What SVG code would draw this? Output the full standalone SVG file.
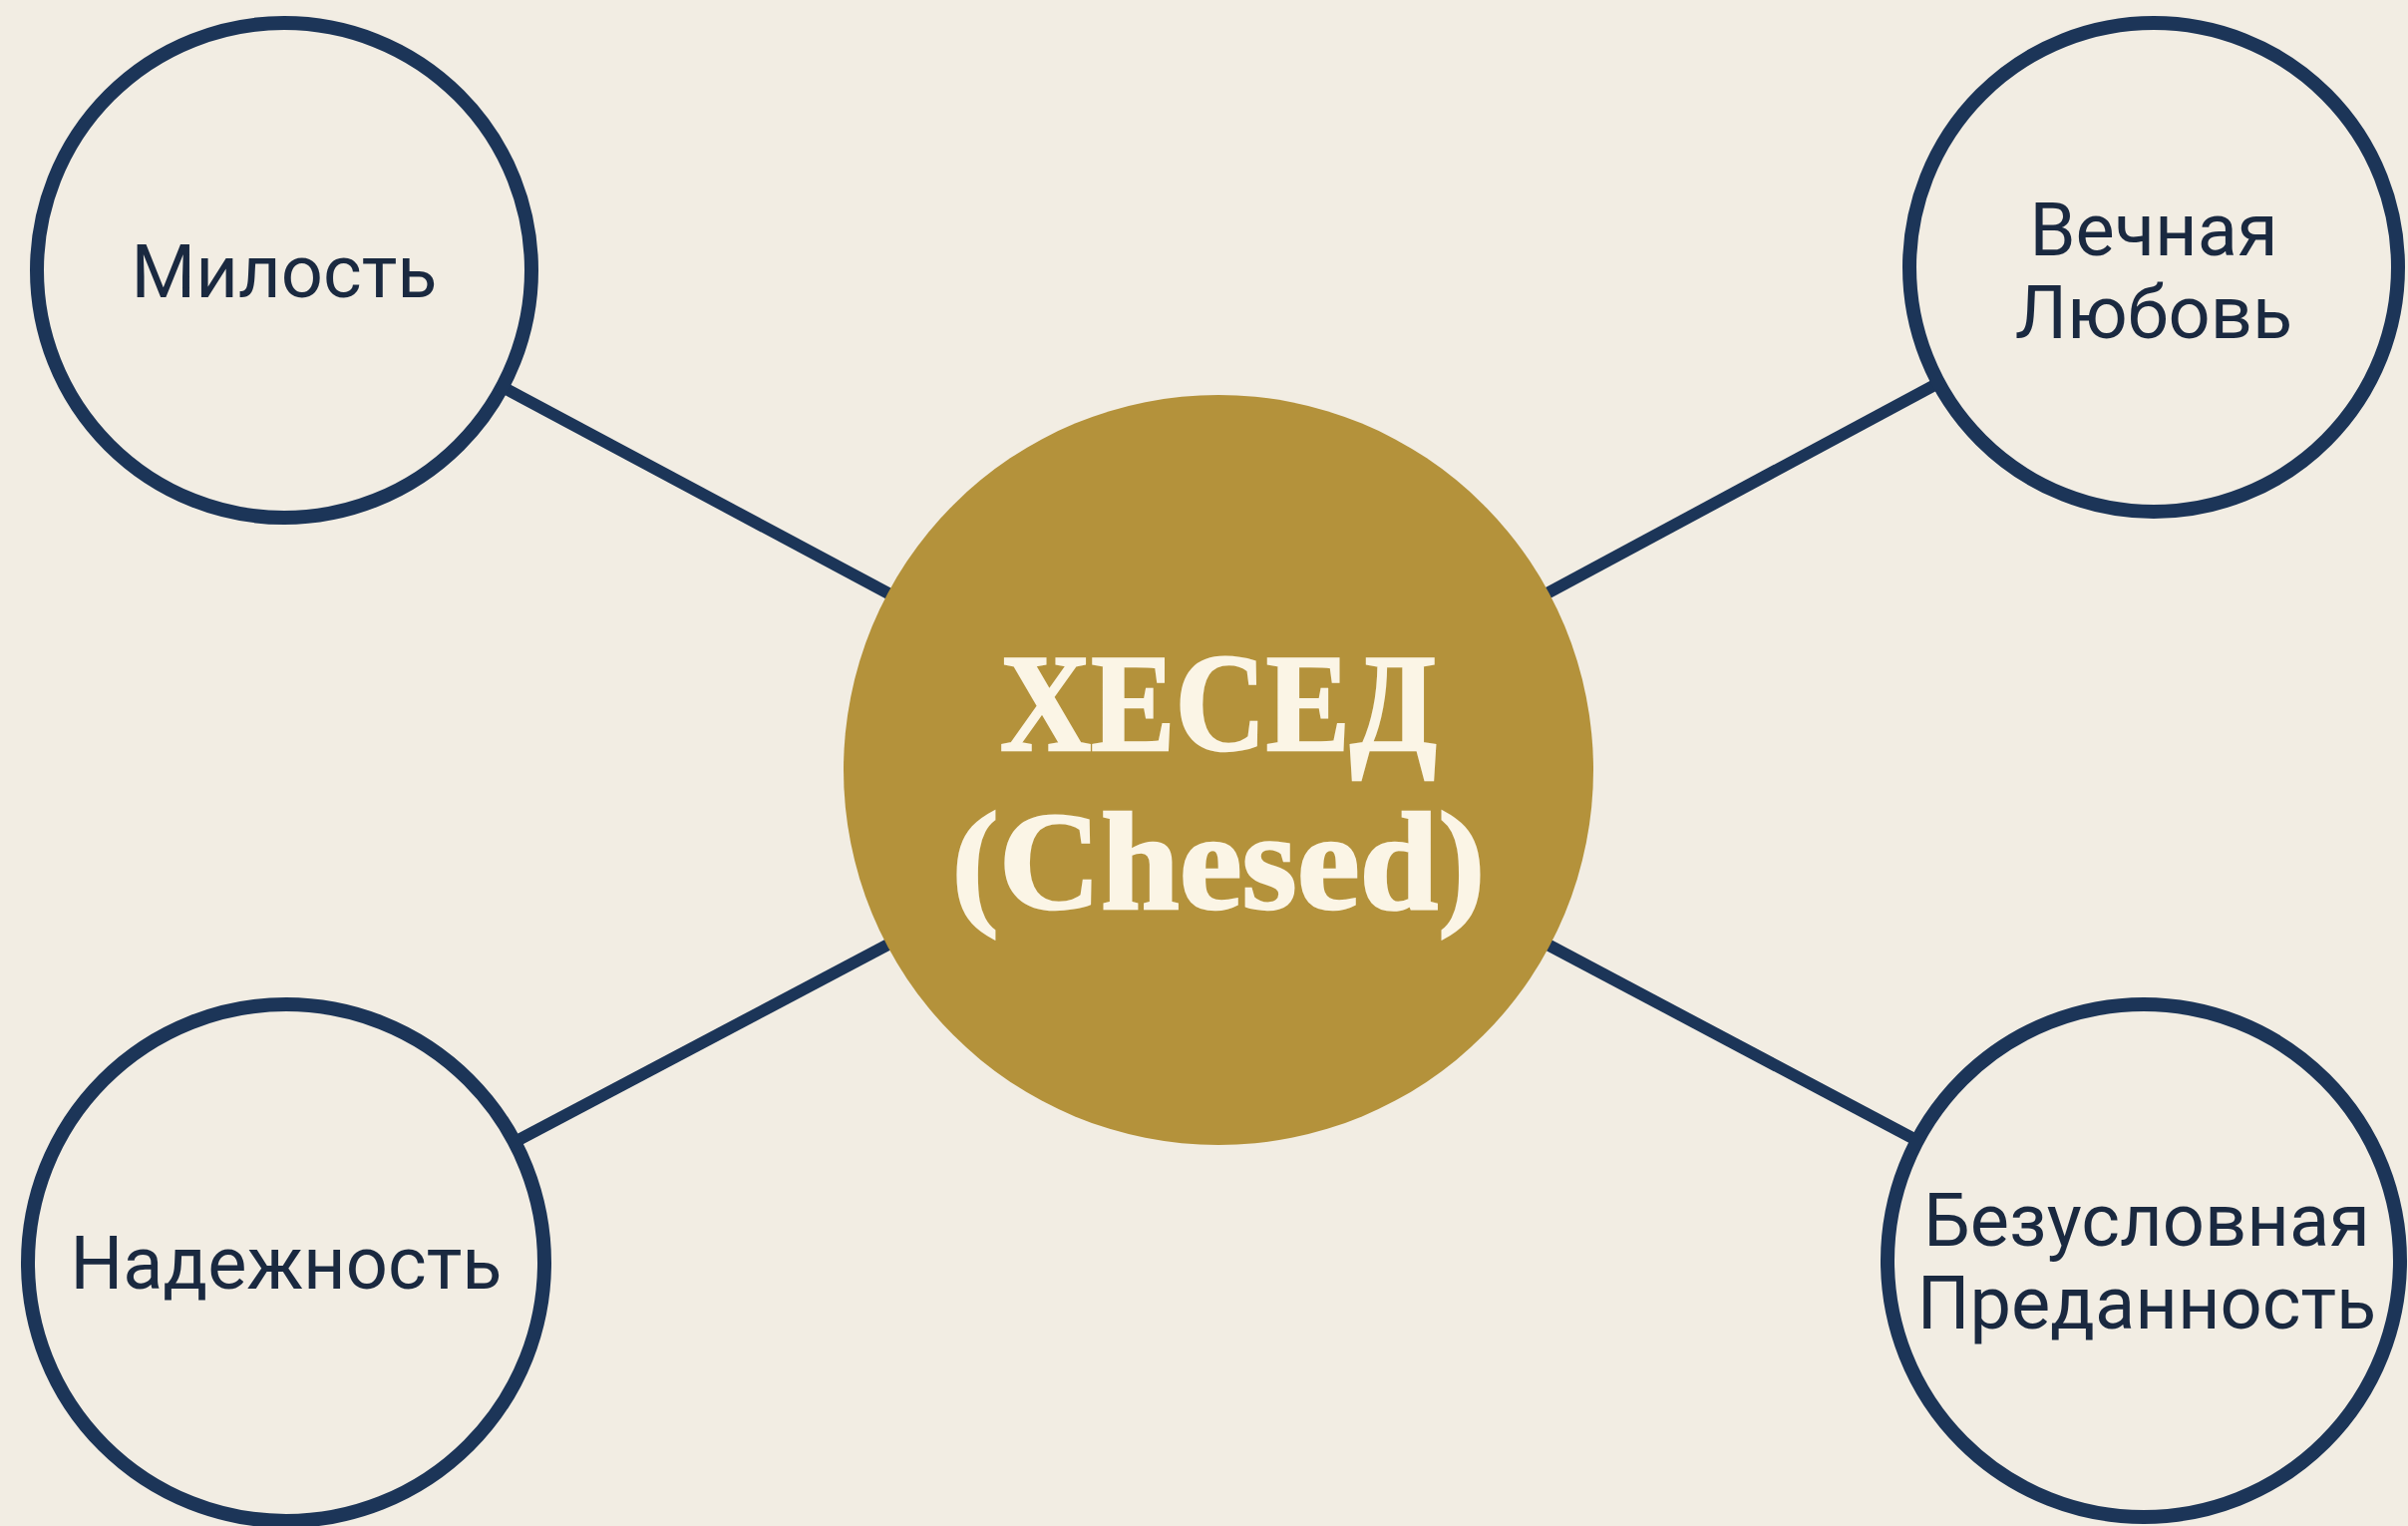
<svg xmlns="http://www.w3.org/2000/svg" width="2415" height="1530" viewBox="0 0 2415 1530">
<style>
.bg{fill:#F2EDE3}
.conn{stroke:#1C3558;stroke-width:12;fill:none}
.node{fill:#F2EDE3;stroke:#1C3558;stroke-width:14}
.lbl{font-family:Roboto,"Liberation Sans",sans-serif;font-size:74px;fill:#1A2940;text-anchor:middle}
.core{fill:#B4923B}
.title{font-family:"Liberation Serif","DejaVu Serif",serif;font-weight:bold;font-size:140px;fill:#FBF5E6;stroke:#FBF5E6;stroke-width:2.5;text-anchor:middle}
</style>
<rect class="bg" x="0" y="0" width="2415" height="1530"/>
<g id="connectors">
<line class="conn" x1="285" y1="271" x2="1222" y2="772"/>
<line class="conn" x1="2160" y1="268" x2="1222" y2="772"/>
<line class="conn" x1="287" y1="1266" x2="1222" y2="772"/>
<line class="conn" x1="2150" y1="1264" x2="1222" y2="772"/>
</g>
<g id="center">
<circle class="core" cx="1222" cy="772" r="376"/>
<text class="title" x="1222" y="752" textLength="438" lengthAdjust="spacingAndGlyphs">ХЕСЕД</text>
<text class="title" x="1222" y="911" textLength="535" lengthAdjust="spacingAndGlyphs">(Chesed)</text>
</g>
<g id="n-milost">
<circle class="node" cx="285" cy="271" r="248"/>
<text class="lbl" x="285" y="298">Милость</text>
</g>
<g id="n-vechnaya">
<circle class="node" cx="2160" cy="268" r="245"/>
<text class="lbl" x="2160" y="256">Вечная</text>
<text class="lbl" x="2160" y="339">Любовь</text>
</g>
<g id="n-nadezhnost">
<circle class="node" cx="287" cy="1266" r="259"/>
<text class="lbl" x="287" y="1292">Надежность</text>
</g>
<g id="n-bezuslovnaya">
<circle class="node" cx="2150" cy="1264" r="257"/>
<text class="lbl" x="2153" y="1249">Безусловная</text>
<text class="lbl" x="2153" y="1332">Преданность</text>
</g>
</svg>
